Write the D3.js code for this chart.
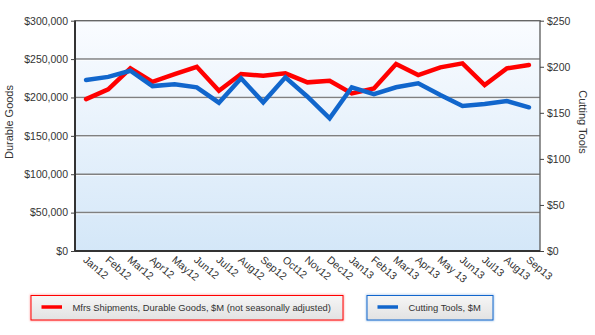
<!DOCTYPE html>
<html><head><meta charset="utf-8">
<script src="https://cdn.jsdelivr.net/npm/d3@7"></script>
<style>
body{margin:0;background:#fff;}
svg{display:block;font-family:"Liberation Sans",Arial,sans-serif;}
</style></head>
<body>
<svg id="chart" width="595" height="335"></svg>
<script>
const categories = ["Jan12","Feb12","Mar12","Apr12","May12","Jun12","Jul12","Aug12","Sep12","Oct12","Nov12","Dec12","Jan13","Feb13","Mar13","Apr13","May 13","Jun13","Jul13","Aug13","Sep13"];
const durableGoods = [197800,210500,237900,220400,230500,240000,208700,230500,228300,231400,219700,221800,205300,211800,243500,229200,239200,244400,216100,237900,242200];
const cuttingTools = [185.6,189,195.7,179,181,177.7,161,187.5,161.4,188.5,167.5,144,177.7,170.4,177.7,182,169.3,157.4,159.6,162.8,156];
const leftTicks = [0,50000,100000,150000,200000,250000,300000];
const rightTicks = [0,50,100,150,200,250];
const seriesNames = ["Mfrs Shipments, Durable Goods, $M (not seasonally adjusted)","Cutting Tools, $M"];
const colors = ["#ff0000","#1166cc"];

const svg = d3.select("#chart");
const L = 75, R = 540, T = 20.7, B = 251;

const x = d3.scalePoint().domain(categories).range([L, R]).padding(0.5);
const yL = d3.scaleLinear().domain([0,300000]).range([B, T]);
const yR = d3.scaleLinear().domain([0,250]).range([B, T]);

const defs = svg.append("defs");
const g1 = defs.append("linearGradient").attr("id","bg").attr("x1",0).attr("y1",0).attr("x2",0).attr("y2",1);
g1.append("stop").attr("offset","0%").attr("stop-color","#fafcff");
g1.append("stop").attr("offset","100%").attr("stop-color","#d4e7f8");
const g2 = defs.append("linearGradient").attr("id","lg").attr("x1",0).attr("y1",0).attr("x2",0).attr("y2",1);
g2.append("stop").attr("offset","0%").attr("stop-color","#f6f6f6");
g2.append("stop").attr("offset","100%").attr("stop-color","#e2e2e2");
const blur = defs.append("filter").attr("id","glow").attr("x","-10%").attr("y","-50%").attr("width","120%").attr("height","200%");
blur.append("feGaussianBlur").attr("stdDeviation",1.2);

svg.append("rect").attr("x",L).attr("y",T).attr("width",R-L).attr("height",B-T).attr("fill","url(#bg)");

// gridlines
svg.append("g").selectAll("line").data(leftTicks.filter(d=>d>0 && d<300000)).join("line")
  .attr("x1",L).attr("x2",R).attr("y1",d=>yL(d)).attr("y2",d=>yL(d))
  .attr("stroke","#808080").attr("stroke-width",1.5);
svg.append("g").selectAll("line").data(leftTicks.filter(d=>d>0 && d<300000)).join("line")
  .attr("x1",L).attr("x2",R).attr("y1",d=>yL(d)+1.3).attr("y2",d=>yL(d)+1.3)
  .attr("stroke","#ffffff").attr("stroke-width",0.8).attr("opacity",0.8);

// border
svg.append("rect").attr("x",L).attr("y",T).attr("width",R-L).attr("height",B-T)
  .attr("fill","none").attr("stroke","#666").attr("stroke-width",1.4);
svg.append("line").attr("x1",L).attr("x2",L).attr("y1",T).attr("y2",B).attr("stroke","#333").attr("stroke-width",2);
svg.append("line").attr("x1",L).attr("x2",R).attr("y1",B).attr("y2",B).attr("stroke","#333").attr("stroke-width",2);

// axes
const axL = svg.append("g").attr("transform",`translate(${L},0)`)
  .call(d3.axisLeft(yL).tickValues(leftTicks).tickSize(4).tickPadding(3).tickFormat(d=>"$"+d3.format(",")(d)));
const axR = svg.append("g").attr("transform",`translate(${R},0)`)
  .call(d3.axisRight(yR).tickValues(rightTicks).tickSize(4).tickPadding(3).tickFormat(d=>"$"+d));
[axL,axR].forEach(a=>{
  a.select(".domain").remove();
  a.selectAll("line").attr("stroke","#444");
  a.selectAll("text").attr("font-size","10.5px").attr("fill","#333").attr("font-family","Liberation Sans, Arial, sans-serif");
});

const axB = svg.append("g").attr("transform",`translate(0,${B})`)
  .call(d3.axisBottom(x).tickSize(0).tickPadding(0));
axB.select(".domain").remove();
axB.selectAll("text")
  .attr("font-size","10.5px").attr("fill","#333").attr("font-family","Liberation Sans, Arial, sans-serif")
  .attr("text-anchor","start").attr("dy",0).attr("y",0)
  .attr("transform",function(){ return `translate(-4,10) rotate(40)`; });

// axis titles
svg.append("text").attr("transform",`translate(13,122) rotate(-90)`).attr("text-anchor","middle")
  .attr("font-size","11px").attr("fill","#333").text("Durable Goods");
svg.append("text").attr("transform",`translate(579,122) rotate(90)`).attr("text-anchor","middle")
  .attr("font-size","11px").attr("fill","#333").text("Cutting Tools");

// lines
const lineL = d3.line().x((d,i)=>x(categories[i])).y(d=>yL(d));
const lineR = d3.line().x((d,i)=>x(categories[i])).y(d=>yR(d));
svg.append("path").datum(durableGoods).attr("d",lineL).attr("fill","none")
  .attr("stroke",colors[0]).attr("stroke-width",4.5).attr("stroke-linejoin","miter").attr("stroke-linecap","round");
svg.append("path").datum(cuttingTools).attr("d",lineR).attr("fill","none")
  .attr("stroke",colors[1]).attr("stroke-width",4.5).attr("stroke-linejoin","miter").attr("stroke-linecap","round");

// legend
const legends = [
  {x:31, w:312, name:seriesNames[0], color:colors[0]},
  {x:367, w:126, name:seriesNames[1], color:colors[1]}
];
legends.forEach(l=>{
  const g = svg.append("g").attr("transform",`translate(${l.x},295.5)`);
  g.append("rect").attr("width",l.w).attr("height",24.5).attr("fill","none")
    .attr("stroke",l.color).attr("stroke-width",2).attr("opacity",0.35).attr("filter","url(#glow)");
  g.append("rect").attr("width",l.w).attr("height",24.5).attr("fill","url(#lg)")
    .attr("stroke",l.color).attr("stroke-width",1);
  g.append("line").attr("x1",10.5).attr("x2",31).attr("y1",11.5).attr("y2",11.5)
    .attr("stroke",l.color).attr("stroke-width",3.5);
  g.append("text").attr("x",41.5).attr("y",15).attr("font-size","9.4px").attr("fill","#333").text(l.name);
});
</script>
</body></html>
